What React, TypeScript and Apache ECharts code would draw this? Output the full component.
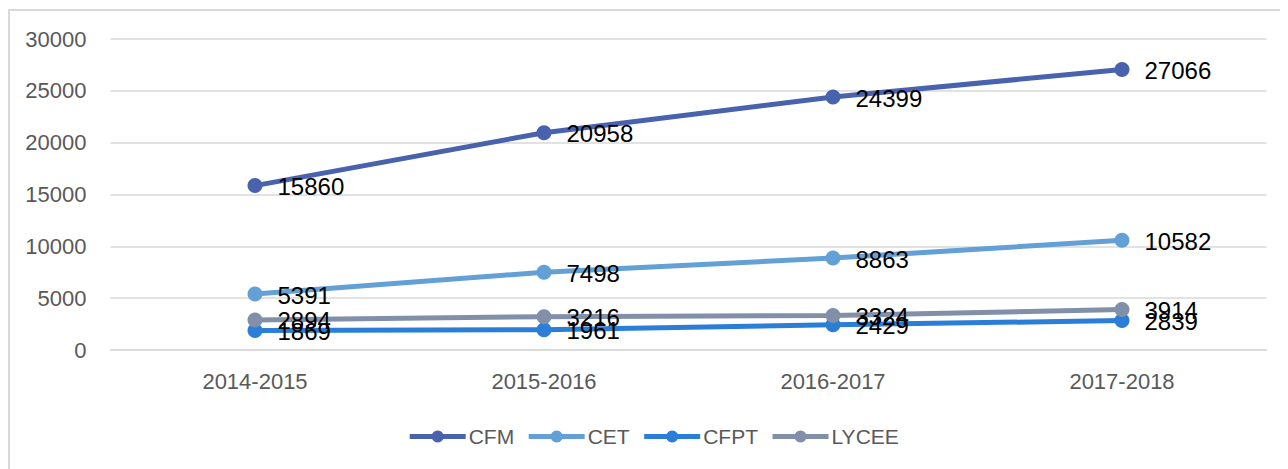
import React, { useEffect, useRef } from "react";
import * as echarts from "echarts";

const categories = ["2014-2015", "2015-2016", "2016-2017", "2017-2018"];
const seriesNames = ["CFM", "CET", "CFPT", "LYCEE"];
const cfm = [15860, 20958, 24399, 27066];
const cet = [5391, 7498, 8863, 10582];
const cfpt = [1869, 1961, 2429, 2839];
const lycee = [2894, 3216, 3324, 3914];
const colors = ["#4862AE", "#62A0D6", "#2B7ED8", "#818FA9"];

const FONT = "'Liberation Sans', Arial, sans-serif";

export default function App() {
  const ref = useRef<HTMLDivElement>(null);
  useEffect(() => {
    if (!ref.current) return;
    const chart = echarts.init(ref.current, null, { renderer: "svg" });
    const values = [cfm, cet, cfpt, lycee];
    chart.setOption({
      animation: false,
      textStyle: { fontFamily: FONT },
      graphic: [
        {
          type: "rect",
          shape: { x: 1, y: 2, width: 1400, height: 600 },
          style: { fill: "none", stroke: "#D9D9D9", lineWidth: 2 },
          silent: true,
        },
      ],
      grid: { left: 102.5, top: 31, width: 1156, height: 311 },
      legend: {
        data: seriesNames,
        top: 413,
        left: "center",
        itemWidth: 56,
        itemHeight: 15,
        itemGap: 12,
        lineStyle: { width: 5 },
        textStyle: { color: "#595959", fontSize: 21, fontFamily: FONT, padding: [0, 0, 0, -2] },
      },
      xAxis: {
        type: "category",
        data: categories,
        boundaryGap: true,
        axisLine: { show: true, lineStyle: { color: "#D9D9D9", width: 1.5 } },
        axisTick: { show: false },
        axisLabel: { color: "#595959", fontSize: 22, margin: 20, fontFamily: FONT },
      },
      yAxis: {
        type: "value",
        min: 0,
        max: 30000,
        interval: 5000,
        axisLine: { show: false },
        axisTick: { show: false },
        splitLine: { lineStyle: { color: "#D9D9D9", width: 1.5 } },
        axisLabel: {
          color: "#595959",
          fontSize: 22,
          margin: 24,
          fontFamily: FONT,
          formatter: (v: number) => String(v),
        },
      },
      series: seriesNames.map((name, i) => ({
        name,
        type: "line",
        data: values[i],
        color: colors[i],
        symbol: "circle",
        symbolSize: 15,
        lineStyle: { width: 5, color: colors[i] },
        itemStyle: { color: colors[i] },
        label: {
          show: true,
          position: "right",
          distance: 15,
          offset: [0, 1],
          color: "#000",
          fontSize: 24,
          fontFamily: FONT,
        },
      })),
    });
    return () => chart.dispose();
  }, []);
  return <div ref={ref} style={{ width: 1290, height: 470 }} />;
}
